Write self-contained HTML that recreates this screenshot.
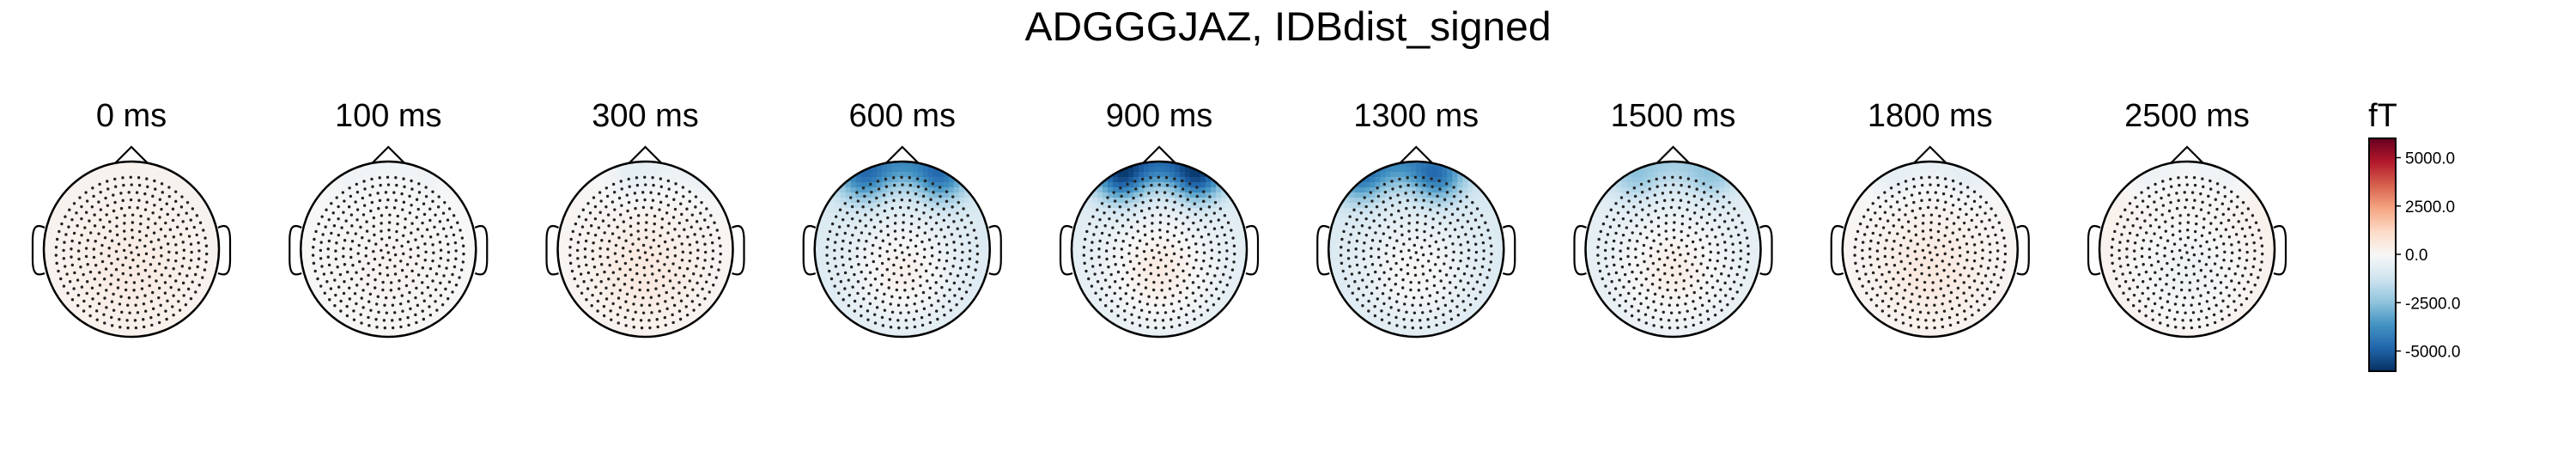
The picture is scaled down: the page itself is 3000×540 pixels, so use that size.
<!DOCTYPE html>
<html><head><meta charset="utf-8"><style>
html,body{margin:0;padding:0;background:#fff;}
svg{display:block;font-family:"Liberation Sans",Arial,sans-serif;}
</style></head><body>
<svg id="fig" width="3000" height="540" viewBox="0 0 3000 540" xmlns="http://www.w3.org/2000/svg">
<defs>
<linearGradient id="cbgrad" x1="0" y1="1" x2="0" y2="0">
<stop offset="0" stop-color="#053061"/><stop offset="0.1" stop-color="#2166ac"/><stop offset="0.2" stop-color="#4393c3"/><stop offset="0.3" stop-color="#92c5de"/><stop offset="0.4" stop-color="#d1e5f0"/><stop offset="0.5" stop-color="#f7f7f7"/><stop offset="0.6" stop-color="#fddbc7"/><stop offset="0.7" stop-color="#f4a582"/><stop offset="0.8" stop-color="#d6604d"/><stop offset="0.9" stop-color="#b2182b"/><stop offset="1" stop-color="#67001f"/>
</linearGradient>
</defs>
<text x="1500" y="47" font-size="47" text-anchor="middle" textLength="613" lengthAdjust="spacingAndGlyphs">ADGGGJAZ, IDBdist_signed</text>
<g id="heads"></g>
<g>
<rect x="2759" y="161" width="31" height="271" fill="url(#cbgrad)" stroke="#000" stroke-width="2"/>
<text x="2775" y="147" font-size="38" text-anchor="middle">fT</text>
<g id="cbticks"></g>
</g>
</svg>
<script>
const headTimes = [0, 100, 300, 600, 900, 1300, 1500, 1800, 2500];
const baseValues = [200, 0, 100, -900, -700, -900, -600, 100, 300];
const frontalValues = [0, -300, -800, -4500, -6000, -4500, -2200, -800, -700];
const frontalShift = [0, 0, 0.3, 0, 0, -0.2, 0, 0, 0];
const centerValues = [300, 200, 500, 1200, 1200, 1000, 1000, 500, -600];
const cbTicks = [5000, 2500, 0, -2500, -5000];
const cbLabels = ["5000.0", "2500.0", "0.0", "-2500.0", "-5000.0"];
const vmax = 6000;

const NS = "http://www.w3.org/2000/svg";
const stops = ["#053061","#2166ac","#4393c3","#92c5de","#d1e5f0","#f7f7f7","#fddbc7","#f4a582","#d6604d","#b2182b","#67001f"];
function hex(h){return [1,3,5].map(i=>parseInt(h.substr(i,2),16));}
const stopRGB = stops.map(hex);
function cmap(v){
  let t = (v + vmax) / (2*vmax); t = Math.max(0, Math.min(1, t));
  const p = t*10, i = Math.min(9, Math.floor(p)), f = p - i;
  const a = stopRGB[i], b = stopRGB[i+1];
  return "rgb(" + a.map((c,k)=>Math.round(c+(b[k]-c)*f)).join(",") + ")";
}
function xHead(i){ return 153 + i*299.25; }
const cy = 290, R = 102;
function yCb(v){ return 296 - v/vmax*135; }

function field(i, x, y){
  const fx = frontalShift[i];
  const g = (ax,ay,sx,sy)=>Math.exp(-((x-ax)*(x-ax)/sx + (y-ay)*(y-ay)/sy));
  const fr = 0.6*g(fx,-1.0,0.5,0.08) + 0.55*g(fx-0.45,-0.8,0.08,0.08) + 0.55*g(fx+0.45,-0.8,0.08,0.08);
  const ce = g(0,0.25,0.35,0.35);
  return baseValues[i] + frontalValues[i]*Math.min(1,fr) + centerValues[i]*ce;
}

// sensor layout (geometry, not data)
const sensors = [];
for (let k=0;k<=10;k++){
  const r = k*0.086;
  const n = k===0?1:Math.round(2*Math.PI*r/0.092);
  for (let j=0;j<n;j++){
    const a = j/n*2*Math.PI + k*0.3;
    sensors.push([r*Math.cos(a), r*Math.sin(a)]);
  }
}

const heads = document.getElementById("heads");
headTimes.forEach((t,i)=>{
  const cx = xHead(i);
  const g = document.createElementNS(NS,"g");
  
  
  const cp = document.createElementNS(NS,"clipPath");
  cp.setAttribute("id","clip"+i);
  const cc = document.createElementNS(NS,"circle");
  cc.setAttribute("cx",cx); cc.setAttribute("cy",cy); cc.setAttribute("r",R);
  cp.appendChild(cc); g.appendChild(cp);
  const img = document.createElementNS(NS,"g");
  img.setAttribute("clip-path","url(#clip"+i+")");
  
  
  const cs = 6;
  for (let py=-R; py<R; py+=cs){
    for (let px=-R; px<R; px+=cs){
      const nx=(px+cs/2)/R, ny=(py+cs/2)/R;
      if (nx*nx+ny*ny>1.15) continue;
      const rc=document.createElementNS(NS,"rect");
      rc.setAttribute("x",cx+px); rc.setAttribute("y",cy+py);
      rc.setAttribute("width",cs+0.5); rc.setAttribute("height",cs+0.5);
      rc.setAttribute("fill",cmap(field(i,nx,ny)));
      img.appendChild(rc);
    }
  }
  g.appendChild(img);
  sensors.forEach(s=>{
    const d=document.createElementNS(NS,"circle");
    d.setAttribute("cx",cx+s[0]*R); d.setAttribute("cy",cy+s[1]*R+4);
    d.setAttribute("r",1.7); d.setAttribute("fill","#222");
    g.appendChild(d);
  });
  const ho=document.createElementNS(NS,"circle");
  
  
  ho.setAttribute("cx",cx); ho.setAttribute("cy",cy); ho.setAttribute("r",R);
  ho.setAttribute("fill","none"); ho.setAttribute("stroke","#000"); ho.setAttribute("stroke-width","2.5");
  g.appendChild(ho);
  const nose=document.createElementNS(NS,"path");
  
  
  nose.setAttribute("d",`M${cx-19},${cy-100} L${cx},${cy-119} L${cx+19},${cy-100}`);
  nose.setAttribute("fill","none"); nose.setAttribute("stroke","#000"); nose.setAttribute("stroke-width","2.2");
  g.appendChild(nose);
  [-1,1].forEach(sd=>{
    const e=document.createElementNS(NS,"path");
    
    
    const x0=cx+sd*101, x1=cx+sd*111, x2=cx+sd*115;
    e.setAttribute("d",`M${x0},${cy-25} C${x1},${cy-30} ${x2},${cy-26} ${x2},${cy-10} L${x2},${cy+12} C${x2},${cy+28} ${x1},${cy+32} ${x0},${cy+28}`);
    e.setAttribute("fill","none"); e.setAttribute("stroke","#000"); e.setAttribute("stroke-width","2.2");
    g.appendChild(e);
  });
  const tl=document.createElementNS(NS,"text");
  
  
  tl.setAttribute("x",cx); tl.setAttribute("y",147);
  tl.setAttribute("font-size","38"); tl.setAttribute("text-anchor","middle");
  tl.textContent = t + " ms";
  g.appendChild(tl);
  heads.appendChild(g);
});

const cbt=document.getElementById("cbticks");
cbTicks.forEach((v,k)=>{
  const y=yCb(v);
  const ln=document.createElementNS(NS,"line");
  
  
  ln.setAttribute("x1",2790); ln.setAttribute("x2",2796); ln.setAttribute("y1",y); ln.setAttribute("y2",y);
  ln.setAttribute("stroke","#000"); ln.setAttribute("stroke-width","1.5");
  cbt.appendChild(ln);
  const tx=document.createElementNS(NS,"text");
  
  
  tx.setAttribute("x",2801); tx.setAttribute("y",y+7);
  tx.setAttribute("font-size","19");
  tx.textContent=cbLabels[k];
  cbt.appendChild(tx);
});
</script>
</body></html>
